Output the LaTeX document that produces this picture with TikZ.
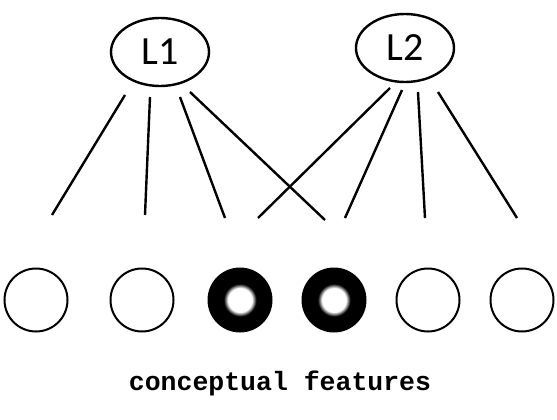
\documentclass[tikz,border=0pt]{standalone}
\usepackage{fontspec}
\newfontfamily\labelfont{Carlito}
\newfontfamily\captionfont{Liberation Mono}
\usetikzlibrary{shapes.geometric}
% black disc with a soft white core
\pgfdeclareradialshading{activeblob}{\pgfpoint{0bp}{0bp}}{%
  color(0bp)=(white); color(9.5bp)=(white); color(13bp)=(black); color(50bp)=(black)}
\begin{document}
\begin{tikzpicture}[x=1pt,y=-1pt,
  layer/.style={draw, line width=2.4pt, ellipse, minimum width=98pt, minimum height=68pt,
    inner sep=0pt, font=\labelfont\fontsize{40}{40}\selectfont},
  feature/.style={draw, line width=2pt, circle, minimum size=63pt, inner sep=0pt},
  active/.style={feature, shading=activeblob},
  link/.style={line width=2.4pt}]
\useasboundingbox (0,0) rectangle (557,420);
% layer units
\node[layer] (L1) at (160,52) {L1};
\node[layer] (L2) at (405,48) {L2};
% feature units
\node[feature] (f1) at (36,300) {};
\node[feature] (f2) at (142,300) {};
\node[active]  (f3) at (240,300) {};
\node[active]  (f4) at (334,300) {};
\node[feature] (f5) at (428,300) {};
\node[feature] (f6) at (522,300) {};
% end points of the connections
\coordinate (a1) at (125,95);  \coordinate (b1) at (52,215);
\coordinate (a2) at (150,97);  \coordinate (b2) at (145,215);
\coordinate (a3) at (180,97);  \coordinate (b3) at (225,218);
\coordinate (a4) at (190,92);  \coordinate (b4) at (325,220);
\coordinate (c1) at (390,88);  \coordinate (d1) at (258,218);
\coordinate (c2) at (402,90);  \coordinate (d2) at (345,218);
\coordinate (c3) at (418,92);  \coordinate (d3) at (425,218);
\coordinate (c4) at (438,92);  \coordinate (d4) at (517,218);
\foreach \s/\e in {a1/b1,a2/b2,a3/b3,a4/b4,c1/d1,c2/d2,c3/d3,c4/d4}
  \draw[link] (\s) -- (\e);
\node[font=\captionfont\bfseries\fontsize{26.5}{26.5}\selectfont] (cap) at (280,383) {conceptual features};
\end{tikzpicture}
\end{document}
